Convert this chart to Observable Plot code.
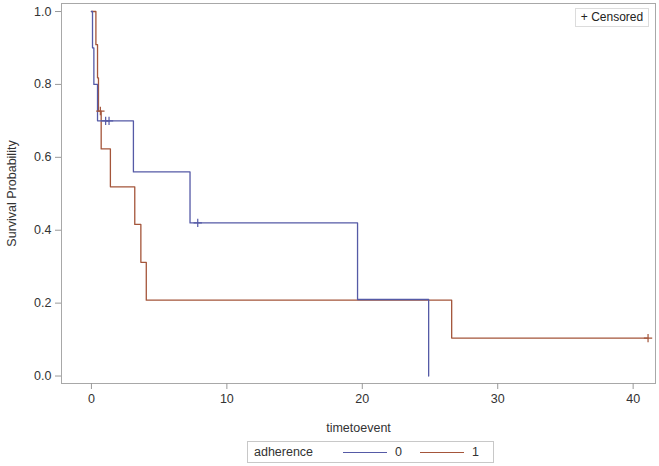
<!DOCTYPE html>
<html>
<head>
<meta charset="utf-8">
<script src="https://cdn.jsdelivr.net/npm/d3@7"></script>
<script src="https://cdn.jsdelivr.net/npm/@observablehq/plot@0.6"></script>
<style>
  html, body { margin: 0; padding: 0; background: #fff; }
  #wrap { position: relative; width: 659px; height: 466px; font-family: "Liberation Sans", Arial, sans-serif; }
  #censored { position: absolute; left: 575px; top: 8px; width: 72px; height: 17px; border: 1px solid #dcdcdc; font-size: 12px; color: #222; line-height: 17px; text-align: center; background: #fff; }
  #legend { position: absolute; left: 247px; top: 441px; width: 245px; height: 20px; border: 1px solid #c8c8c8; font-size: 12.5px; color: #333; display: flex; align-items: center; }
  #legend .sw { display: inline-block; width: 44px; height: 0; border-top: 1.3px solid; margin: 0 8px 0 0; }
</style>
</head>
<body>
<div id="wrap"></div>
<script>
// adherence = 0
const time0 = [0, 0.08, 0.18, 0.45, 3.1, 7.28, 19.65, 24.9];
const surv0 = [1, 0.9, 0.8, 0.7, 0.56, 0.42, 0.21, 0];
const censTime0 = [1.05, 1.3, 7.85];
const censSurv0 = [0.7, 0.7, 0.42];
// adherence = 1
const time1 = [0, 0.33, 0.45, 0.52, 0.72, 1.4, 3.2, 3.65, 4.05, 26.6, 41.1];
const surv1 = [1, 0.909, 0.818, 0.727, 0.623, 0.519, 0.416, 0.312, 0.208, 0.104, 0.104];
const censTime1 = [0.66, 41.1];
const censSurv1 = [0.727, 0.104];
const groups = ["0", "1"];
const colors = ["#555aa6", "#a4553a"];
const xTicks = [0, 10, 20, 30, 40];
const yTicks = [0, 0.2, 0.4, 0.6, 0.8, 1.0];

const curve0 = time0.map((t, i) => ({t, s: surv0[i], g: "0"}));
const curve1 = time1.map((t, i) => ({t, s: surv1[i], g: "1"}));
const cens0 = censTime0.map((t, i) => ({t, s: censSurv0[i], g: "0"}));
const cens1 = censTime1.map((t, i) => ({t, s: censSurv1[i], g: "1"}));

const plot = Plot.plot({
  width: 659,
  height: 433,
  marginLeft: 61,
  marginTop: 3,
  marginRight: 4,
  marginBottom: 50,
  style: {fontFamily: "'Liberation Sans', Arial, sans-serif", fontSize: "12.5px", color: "#333", background: "#fff"},
  x: {domain: [-2.21, 41.65]},
  y: {domain: [-0.0205, 1.022]},
  color: {domain: groups, range: colors},
  marks: [
    Plot.frame({stroke: "#a8a8a8"}),
    Plot.axisX({ticks: xTicks, tickSize: 6, tickPadding: 5, stroke: "#999", fill: "#333",
      label: "timetoevent", labelAnchor: "center", labelArrow: "none", labelOffset: 48}),
    Plot.axisY({ticks: yTicks, tickFormat: ".1f", tickSize: 6, tickPadding: 4, stroke: "#999", fill: "#333",
      label: "Survival Probability", labelAnchor: "center", labelArrow: "none", labelOffset: 54}),
    Plot.line(curve1, {x: "t", y: "s", stroke: "g", curve: "step-after", strokeWidth: 1.3}),
    Plot.line(curve0, {x: "t", y: "s", stroke: "g", curve: "step-after", strokeWidth: 1.3}),
    Plot.dot(cens1, {x: "t", y: "s", stroke: "g", symbol: "plus", r: 2.8, strokeWidth: 1.2}),
    Plot.dot(cens0, {x: "t", y: "s", stroke: "g", symbol: "plus", r: 2.8, strokeWidth: 1.2})
  ]
});
const wrap = document.getElementById("wrap");
wrap.appendChild(plot);

const cbox = document.createElement("div");
cbox.id = "censored";
cbox.textContent = "+ Censored";
wrap.appendChild(cbox);

const leg = document.createElement("div");
leg.id = "legend";
let html = '<span style="margin-left:6px;margin-right:30px">adherence</span>';
groups.forEach((g, i) => {
  html += `<span class="sw" style="border-color:${colors[i]}"></span><span style="margin-right:${i === 0 ? 18 : 0}px">${g}</span>`;
});
leg.innerHTML = html;
wrap.appendChild(leg);
</script>
</body>
</html>
